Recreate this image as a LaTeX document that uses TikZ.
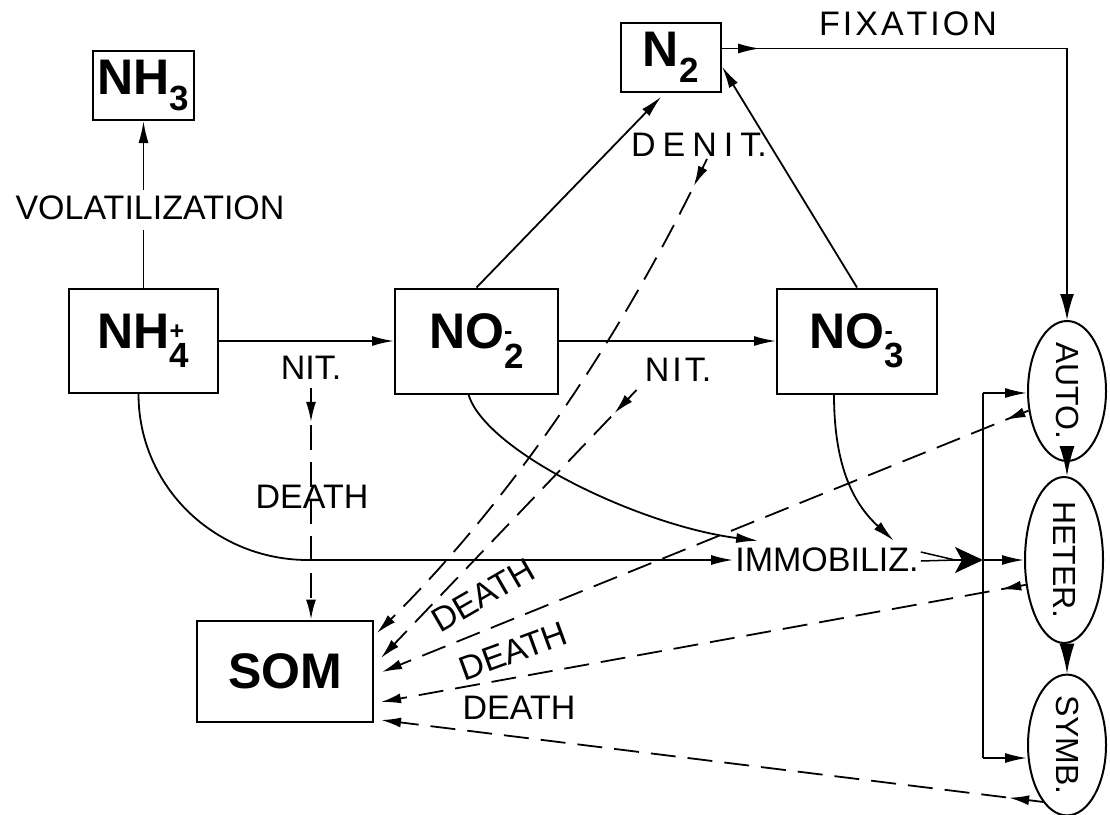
\documentclass[tikz,border=0pt]{standalone}
\usepackage{fontspec}
\setmainfont{Liberation Sans}
\usepackage{amsmath}
\usepackage{graphicx}
\usetikzlibrary{arrows.meta,calc,decorations.markings,shapes.geometric}
\newcommand{\lsp}{\kern3pt}
\newcommand{\lsq}{\kern7pt}
\tikzset{
  box/.style={draw,line width=2pt,inner sep=0pt,font=\fontsize{50}{60}\selectfont\bfseries},
  lbl/.style={inner sep=2pt,font=\fontsize{34}{40}\selectfont},
  org/.style={ellipse,draw,line width=2pt,minimum width=78pt,minimum height=140pt,inner sep=0pt,font=\fontsize{32}{38}\selectfont},
  flow/.style={line width=1.8pt,-{Latex[length=22pt,width=10pt]}},
  bigflow/.style={line width=1.8pt,-{Latex[length=30pt,width=15pt]}},
  midarrow/.style={postaction={decorate},decoration={markings,mark=at position #1 with {\arrow{Latex[length=22pt,width=10pt]}}}},
  death/.style={line width=1.8pt,dash pattern=on 25pt off 12pt,-{Latex[length=20pt,width=10pt]},
     postaction={decorate},decoration={markings,mark=at position #1 with {\arrow{Latex[length=20pt,width=10pt]}}}},
}
\begin{document}
\begin{tikzpicture}[x=1pt,y=1pt]
\useasboundingbox (0,0) rectangle (1110,-814);
% boxes
\node[box,minimum width=101pt,minimum height=69pt] (nh3) at (143.5,-85.5) {NH$_{\text{3}}$};
\node[box,minimum width=149pt,minimum height=104pt] (nh4) at (143.5,-341) {NH$^{\scriptscriptstyle\text{+}}_{\text{4}}$};
\node[box,minimum width=163pt,minimum height=105pt] (no2) at (476.5,-341) {NO$^{\scriptscriptstyle\text{-}}_{\text{2}}$};
\node[box,minimum width=160pt,minimum height=105pt] (no3) at (857,-341) {NO$^{\scriptscriptstyle\text{-}}_{\text{3}}$};
\node[box,minimum width=100pt,minimum height=69pt] (n2) at (671,-57.5) {N$_{\text{2}}$};
\node[box,minimum width=176pt,minimum height=101pt] (som) at (285,-671) {SOM};
% organisms
\node[org] (auto) at (1067,-391) {\rotatebox{-90}{AUTO.}};
\node[org] (heter) at (1064,-560) {\rotatebox{-90}{HETER.}};
\node[org] (symb) at (1067,-745) {\rotatebox{-90}{SYMB.}};
% labels
\node[lbl] (nit1) at (311,-368) {NIT.};
\node[lbl] (dth0) at (312,-497) {DEATH};
\node[lbl] (nit2) at (678,-370) {N\lsp I\lsp T.};
\node[lbl] (denit) at (699,-145) {D\lsq E\lsq N\lsq I\lsq T.};
\node[lbl] (fix) at (908,-24) {F\lsp I\lsp X\lsp A\lsp T\lsp I\lsp O\lsp N};
\node[lbl] (immob) at (827,-560) {IMMOBILIZ.};
\node[lbl,rotate=30] (dth1) at (483,-595) {DEATH};
\node[lbl,rotate=20] (dth2) at (513,-651) {DEATH};
\node[lbl] (dth3) at (519,-708) {DEATH};
\node[lbl] (vol) at (150,-208) {VOLATILIZATION};
% coordinates
\coordinate (c1) at (308,-560);
\coordinate (cv) at (955,-560);
\coordinate (bj) at (983,-560);
\coordinate (btop) at (983,-393);
\coordinate (bbot) at (983,-758);
\coordinate (s1) at ($(som.east)+(3,38)$);
\coordinate (s2) at ($(som.east)+(7,13)$);
\coordinate (s3) at ($(som.east)+(8,-1)$);
\coordinate (s4) at ($(som.east)+(7,-31)$);
\coordinate (s5) at ($(som.east)+(7,-49)$);
% volatilization
\draw[line width=1.8pt] (nh4.north) -- ([yshift=-8pt]nh4.north |- vol.south);
\draw[flow] ([yshift=4pt]nh4.north |- vol.north) -- (nh4.north |- nh3.south);
% nitrification chain
\draw[flow] (nh4.east) -- (no2.west);
\draw[flow] (no2.east) -- (no3.west);
% denitrification
\draw[flow,shorten >=5pt] (no2.north) -- (n2.-100);
\draw[flow] (no3.north) -- (n2.-10);
% fixation
\draw[line width=1.8pt,-{Latex[length=26pt,width=14pt]},midarrow=38pt] (n2.10) -| (auto.north);
% immobilization
\draw[flow] ([xshift=-5pt]nh4.south) to[out=-90,in=180] (c1) -- (immob.west);
\draw[flow] ([xshift=-8pt]no2.south) .. controls +(17,-57) and +(-118,15) .. ([xshift=25pt,yshift=5pt]immob.north west);
\draw[flow] ([xshift=-23pt]no3.south) .. controls +(0,-76) and +(-38,35) .. ([xshift=-27pt,yshift=5pt]immob.north east);
\draw[line width=1.5pt] ([yshift=8pt]immob.east) -- (cv);
\draw[line width=1.5pt] ([yshift=-1pt]immob.east) -- (cv);
\draw[line width=1.8pt,-{Stealth[length=28pt,width=26pt,inset=7pt]}] (cv) -- (bj);
\draw[line width=1.8pt] (btop) -- (bbot);
\draw[flow] (btop) -- (btop -| auto.west);
\draw[flow] (bj) -- (bj -| heter.west);
\draw[flow] (bbot) -- (bbot -| symb.west);
% organism chain
\draw[bigflow] (auto.south) -- (auto.south |- heter.north);
\draw[bigflow] (auto.south |- heter.south) -- (symb.north);
% death flows
\draw[death=34pt] ([yshift=-6pt]nit1.south) -- (nit1.south |- som.north);
\draw[death=30pt] ([xshift=8pt]denit.south) .. controls +(-83,-174) and +(137,136) .. (s1);
\draw[death=32pt] ([xshift=-6pt,yshift=-6pt]nit2.south west) -- (s2);
\draw[death=25pt] (auto.207) -- (s3);
\draw[death=25pt] (heter.213) -- (s4);
\draw[death=34pt] (symb.247) -- (s5);
\end{tikzpicture}
\end{document}
